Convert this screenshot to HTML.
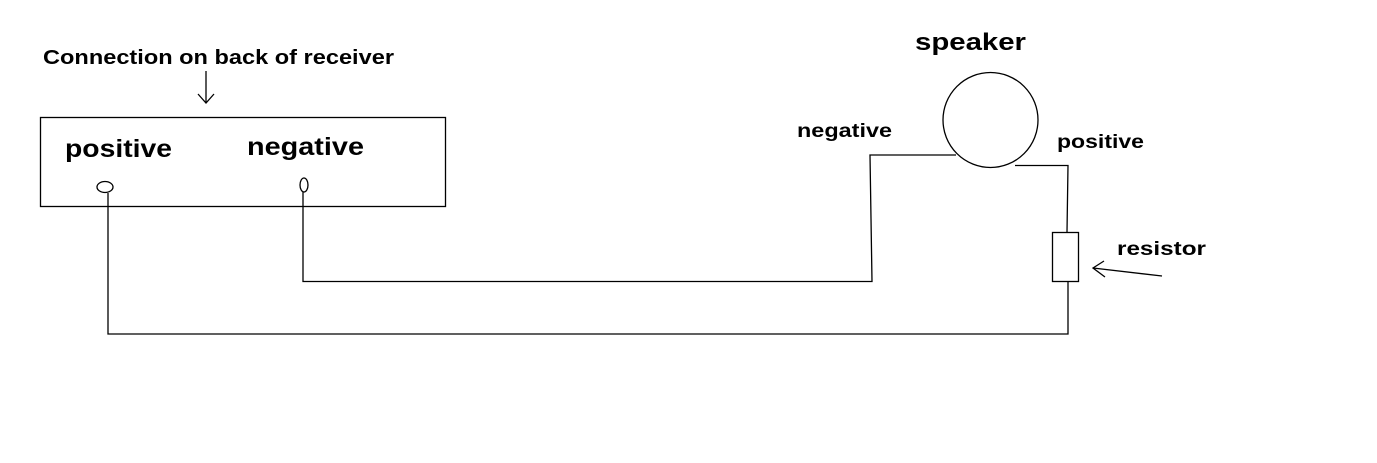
<!DOCTYPE html>
<html><head><style>
html,body{margin:0;padding:0;background:#fff;}
svg{display:block}
text{font-family:"Liberation Sans",sans-serif;font-weight:bold;fill:#000}
</style></head><body>
<svg width="1377" height="463" viewBox="0 0 1377 463" xmlns="http://www.w3.org/2000/svg">
<g fill="none" stroke="#000" stroke-width="1.3">
<rect x="40.5" y="117.5" width="405" height="89"/>
<ellipse cx="105" cy="187" rx="8" ry="5.5"/>
<ellipse cx="304" cy="185" rx="4" ry="7"/>
<line x1="206" y1="71" x2="206" y2="103"/>
<polyline points="198,94 206,103 214,94"/>
<circle cx="990.5" cy="120" r="47.5"/>
<polyline points="956,155 870,155 872,281.5 303,281.5 303,192"/>
<polyline points="1015,165.5 1068,165.5 1067,232"/>
<rect x="1052.5" y="232.5" width="26" height="49"/>
<polyline points="1068,282 1068,334 108,334 108,193"/>
<line x1="1162" y1="276" x2="1093" y2="268"/>
<polyline points="1104,261 1093,268 1105,277"/>
</g>
<text x="43" y="64" font-size="20" textLength="351" lengthAdjust="spacingAndGlyphs">Connection on back of receiver</text>
<text x="65" y="157" font-size="25" textLength="107" lengthAdjust="spacingAndGlyphs">positive</text>
<text x="247" y="155" font-size="25" textLength="117" lengthAdjust="spacingAndGlyphs">negative</text>
<text x="915" y="50" font-size="24" textLength="111" lengthAdjust="spacingAndGlyphs">speaker</text>
<text x="797" y="137" font-size="19" textLength="95" lengthAdjust="spacingAndGlyphs">negative</text>
<text x="1057" y="148" font-size="19" textLength="87" lengthAdjust="spacingAndGlyphs">positive</text>
<text x="1117" y="255" font-size="19" textLength="89" lengthAdjust="spacingAndGlyphs">resistor</text>
</svg>
</body></html>
